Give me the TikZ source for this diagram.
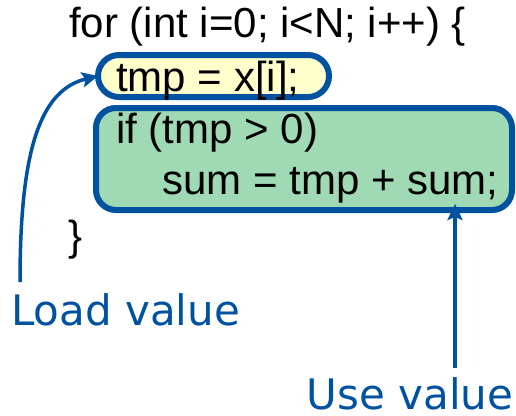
\documentclass[tikz,border=0pt]{standalone}
\usepackage{fontspec}
\setmainfont{Liberation Sans}
\newfontfamily\lblfont{DejaVu Sans}
\usetikzlibrary{arrows.meta,calc}
\definecolor{myblue}{RGB}{0,82,160}
\definecolor{myyellow}{RGB}{255,255,204}
\definecolor{mygreen}{RGB}{160,218,180}
\tikzset{
  code/.style={anchor=base west,inner sep=0pt,font=\fontsize{42}{50}\selectfont,text=black},
  lbl/.style={anchor=base west,inner sep=0pt,font=\lblfont\fontsize{42}{50}\selectfont,text=myblue},
  boxy/.style={draw=myblue,line width=6pt,inner sep=0pt,outer sep=0pt},
  arr/.style={draw=myblue,line width=3.5pt,-{Stealth[length=16pt,width=15pt,inset=3pt]}}
}
\begin{document}
\begin{tikzpicture}[x=1pt,y=-1pt]
\useasboundingbox (0,0) rectangle (516,415);
\node[boxy,fill=myyellow,minimum width=231pt,minimum height=42pt,rounded corners=21pt] (ybox) at (213.5,76) {};
\node[boxy,fill=mygreen,minimum width=416pt,minimum height=102pt,rounded corners=20pt] (gbox) at (304,159) {};
\node[code] (forl) at (69,37) {for (int i=0; i<N; i++) \{};
\node[code] (tmpl) at (116,91) {tmp = x[i];};
\node[code] (ifl) at (116,143) {if (tmp > 0)};
\node[code] (suml) at (162,194) {sum = tmp + sum;};
\node[code] (closel) at (68,250) {\}};
\node[lbl] (load) at (11,325) {Load value};
\node[lbl] (use) at (306.5,409) {Use value};
\coordinate (loadstart) at (20,282);
\coordinate (usestart) at (455,368);
\draw[arr] (loadstart) .. controls (20,150) and (40,90) .. (ybox.west);
\draw[arr,shorten >=-6pt] (usestart) -- (usestart |- gbox.south);
\end{tikzpicture}
\end{document}
